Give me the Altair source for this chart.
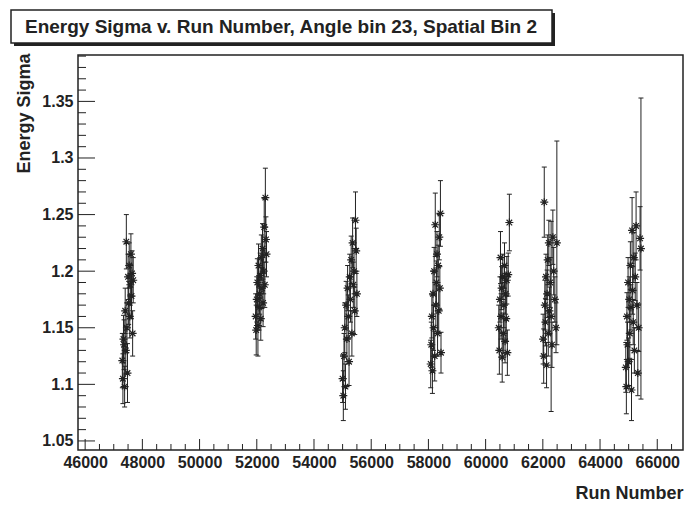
import altair as alt
import pandas as pd

# ---------------- data ----------------
run_number = [
    47300, 47320, 47340, 47360, 47380, 47400, 47420, 47440, 47460, 47480,
    47500, 47520, 47540, 47560, 47580, 47600, 47620, 47640, 47660, 47680,
    51960, 51980, 52000, 52020, 52040, 52060, 52080, 52100, 52120, 52140,
    52160, 52180, 52200, 52220, 52240, 52260, 52280, 52300, 52320, 52340,
    55000, 55025, 55050, 55075, 55100, 55125, 55150, 55175, 55200, 55225,
    55250, 55275, 55300, 55325, 55350, 55375, 55400, 55425, 55450, 55475, 55500,
    58080, 58100, 58120, 58140, 58160, 58180, 58200, 58220, 58240, 58260,
    58280, 58300, 58320, 58340, 58360, 58380, 58400, 58420, 58440,
    60460, 60480, 60500, 60520, 60540, 60560, 60580, 60600, 60620, 60640,
    60660, 60680, 60700, 60720, 60740, 60760, 60790, 60830,
    62010, 62030, 62050, 62070, 62090, 62110, 62130, 62150, 62170, 62190,
    62210, 62230, 62260, 62290, 62320, 62350, 62380, 62420, 62460, 62490,
    64900, 64920, 64940, 64960, 64980, 65000, 65020, 65040, 65060, 65080,
    65100, 65120, 65140, 65160, 65180, 65200, 65230, 65260, 65290, 65320,
    65350, 65400, 65430,
]
energy_sigma = [
    1.121, 1.105, 1.140, 1.135, 1.098, 1.165, 1.130, 1.226, 1.150, 1.110,
    1.195, 1.172, 1.205, 1.160, 1.188, 1.215, 1.178, 1.198, 1.145, 1.192,
    1.160, 1.148, 1.175, 1.190, 1.152, 1.205, 1.168, 1.180, 1.196, 1.158,
    1.212, 1.185, 1.220, 1.172, 1.200, 1.239, 1.188, 1.265, 1.228, 1.215,
    1.105, 1.090, 1.125, 1.150, 1.098, 1.170, 1.140, 1.185, 1.160, 1.120,
    1.195, 1.175, 1.210, 1.145, 1.225, 1.188, 1.200, 1.165, 1.245, 1.218, 1.180,
    1.118, 1.135, 1.160, 1.112, 1.180, 1.150, 1.200, 1.125, 1.241, 1.170,
    1.190, 1.215, 1.145, 1.205, 1.165, 1.230, 1.185, 1.251, 1.128,
    1.150, 1.130, 1.175, 1.212, 1.160, 1.185, 1.124, 1.195, 1.145, 1.170,
    1.205, 1.138, 1.180, 1.158, 1.192, 1.128, 1.197, 1.243,
    1.140, 1.125, 1.261, 1.170, 1.155, 1.195, 1.117, 1.180, 1.210, 1.145,
    1.225, 1.165, 1.190, 1.160, 1.135, 1.230, 1.200, 1.175, 1.150, 1.225,
    1.115, 1.098, 1.160, 1.135, 1.190, 1.120, 1.175, 1.145, 1.205, 1.168,
    1.095, 1.236, 1.183, 1.155, 1.212, 1.130, 1.195, 1.240, 1.170, 1.110,
    1.150, 1.229, 1.220,
]
sigma_error = [
    0.024, 0.022, 0.021, 0.022, 0.018, 0.020, 0.021, 0.024, 0.022, 0.026,
    0.020, 0.019, 0.020, 0.019, 0.018, 0.018, 0.020, 0.020, 0.020, 0.020,
    0.020, 0.022, 0.020, 0.021, 0.027, 0.019, 0.020, 0.018, 0.020, 0.019,
    0.020, 0.018, 0.022, 0.021, 0.020, 0.025, 0.020, 0.026, 0.020, 0.020,
    0.021, 0.022, 0.020, 0.022, 0.020, 0.021, 0.020, 0.020, 0.019, 0.021,
    0.020, 0.020, 0.021, 0.020, 0.022, 0.020, 0.020, 0.021, 0.025, 0.020, 0.020,
    0.021, 0.020, 0.019, 0.020, 0.020, 0.020, 0.021, 0.022, 0.028, 0.020,
    0.019, 0.020, 0.020, 0.018, 0.019, 0.020, 0.019, 0.029, 0.018,
    0.020, 0.021, 0.020, 0.023, 0.020, 0.019, 0.022, 0.020, 0.018, 0.020,
    0.020, 0.019, 0.018, 0.020, 0.021, 0.020, 0.019, 0.025,
    0.022, 0.024, 0.031, 0.022, 0.021, 0.020, 0.020, 0.021, 0.022, 0.020,
    0.020, 0.021, 0.022, 0.084, 0.020, 0.024, 0.021, 0.020, 0.022, 0.090,
    0.022, 0.024, 0.021, 0.020, 0.022, 0.021, 0.020, 0.022, 0.021, 0.020,
    0.027, 0.029, 0.021, 0.020, 0.022, 0.020, 0.021, 0.030, 0.020, 0.020,
    0.021, 0.028, 0.133,
]

y_major = [1.05, 1.1, 1.15, 1.2, 1.25, 1.3, 1.35]
y_minor = [1.06, 1.07, 1.08, 1.09, 1.11, 1.12, 1.13, 1.14, 1.16, 1.17, 1.18, 1.19,
           1.21, 1.22, 1.23, 1.24, 1.26, 1.27, 1.28, 1.29, 1.31, 1.32, 1.33, 1.34,
           1.36, 1.37, 1.38, 1.39]
x_major = [46000, 48000, 50000, 52000, 54000, 56000, 58000, 60000, 62000, 64000, 66000]
x_minor = [46500, 47000, 47500, 48500, 49000, 49500, 50500, 51000, 51500,
           52500, 53000, 53500, 54500, 55000, 55500, 56500, 57000, 57500,
           58500, 59000, 59500, 60500, 61000, 61500, 62500, 63000, 63500,
           64500, 65000, 65500, 66500]

TITLE = "Energy Sigma v. Run Number, Angle bin 23, Spatial Bin 2"

# ---------------- layout / style ----------------
W, H = 605, 395
XDOM = [45750, 66900]
YDOM = [1.042, 1.391]
FONT = "Liberation Sans"
INK = "#222222"
STAR = "M-1,0L1,0M0,-1L0,1M-0.7,-0.7L0.7,0.7M-0.7,0.7L0.7,-0.7"

df = pd.DataFrame({"run": run_number, "sigma": energy_sigma, "err": sigma_error})
df["lo"] = df["sigma"] - df["err"]
df["hi"] = df["sigma"] + df["err"]

xs = alt.Scale(domain=XDOM, nice=False, zero=False)
ys = alt.Scale(domain=YDOM, nice=False, zero=False)

xaxis = alt.Axis(
    values=x_major, format="d", grid=False, ticks=False, domain=False,
    labelFont=FONT, labelFontSize=16, labelFontWeight="bold", labelColor=INK,
    labelPadding=4, labelFlush=False, labelOverlap=False,
    title="Run Number", titleFont=FONT, titleFontSize=18, titleFontWeight="bold",
    titleColor=INK, titleX=W, titleY=48, titleAlign="right", titleBaseline="alphabetic",
)
yaxis = alt.Axis(
    values=y_major, format=".2~f", grid=False, ticks=False, domain=False,
    labelFont=FONT, labelFontSize=16, labelFontWeight="bold", labelColor=INK,
    labelPadding=5, labelFlush=False, labelOverlap=False,
    title="Energy Sigma", titleFont=FONT, titleFontSize=18, titleFontWeight="bold",
    titleColor=INK, titleAngle=270, titleX=-49, titleY=-2, titleAlign="right",
    titleBaseline="alphabetic",
)


def X(field):
    return alt.X(field, scale=xs, axis=xaxis, title="Run Number")


def Y(field):
    return alt.Y(field, scale=ys, axis=yaxis, title="Energy Sigma")


base = alt.Chart(df)

bars = base.mark_rule(color=INK, strokeWidth=1).encode(
    x=X("run:Q"), y=Y("lo:Q"), y2="hi:Q",
)
cap_lo = base.mark_tick(orient="horizontal", size=5, thickness=1, color=INK, opacity=1).encode(
    x=X("run:Q"), y=Y("lo:Q")
)
cap_hi = base.mark_tick(orient="horizontal", size=5, thickness=1, color=INK, opacity=1).encode(
    x=X("run:Q"), y=Y("hi:Q")
)
pts = base.mark_point(shape=STAR, size=64, filled=False, color=INK, strokeWidth=1.2, opacity=1).encode(
    x=X("run:Q"), y=Y("sigma:Q")
)

# inward ticks (ROOT style)
ymaj = alt.Chart(pd.DataFrame({"v": y_major})).mark_rule(color=INK, strokeWidth=1).encode(
    y=Y("v:Q"), x=alt.value(0), x2=alt.value(17)
)
ymin = alt.Chart(pd.DataFrame({"v": y_minor})).mark_rule(color=INK, strokeWidth=1).encode(
    y=Y("v:Q"), x=alt.value(0), x2=alt.value(8)
)
xmaj = alt.Chart(pd.DataFrame({"v": x_major})).mark_rule(color=INK, strokeWidth=1).encode(
    x=X("v:Q"), y=alt.value(H), y2=alt.value(H - 11)
)
xmin = alt.Chart(pd.DataFrame({"v": x_minor})).mark_rule(color=INK, strokeWidth=1).encode(
    x=X("v:Q"), y=alt.value(H), y2=alt.value(H - 6)
)

# title box with shadow
one = pd.DataFrame({"t": [TITLE]})
shadow = alt.Chart(one).mark_rect(fill=INK).encode(
    x=alt.value(-64), x2=alt.value(477), y=alt.value(-42), y2=alt.value(-9)
)
box = alt.Chart(one).mark_rect(fill="white", stroke=INK, strokeWidth=1.5).encode(
    x=alt.value(-67), x2=alt.value(474), y=alt.value(-45), y2=alt.value(-12)
)
title = alt.Chart(one).mark_text(
    font=FONT, fontSize=19, fontWeight="bold", color=INK, align="center", baseline="middle"
).encode(text="t:N", x=alt.value(203), y=alt.value(-28))

chart = alt.layer(
    bars, cap_lo, cap_hi, pts, ymaj, ymin, xmaj, xmin, shadow, box, title
).properties(
    width=W, height=H,
    autosize=alt.AutoSizeParams(type="none"),
    padding={"left": 78, "top": 55, "right": 3, "bottom": 56},
    background="white",
).configure_view(stroke=INK, strokeWidth=1.5)

chart.save("out.html", embed_options={"renderer": "svg", "actions": False})
